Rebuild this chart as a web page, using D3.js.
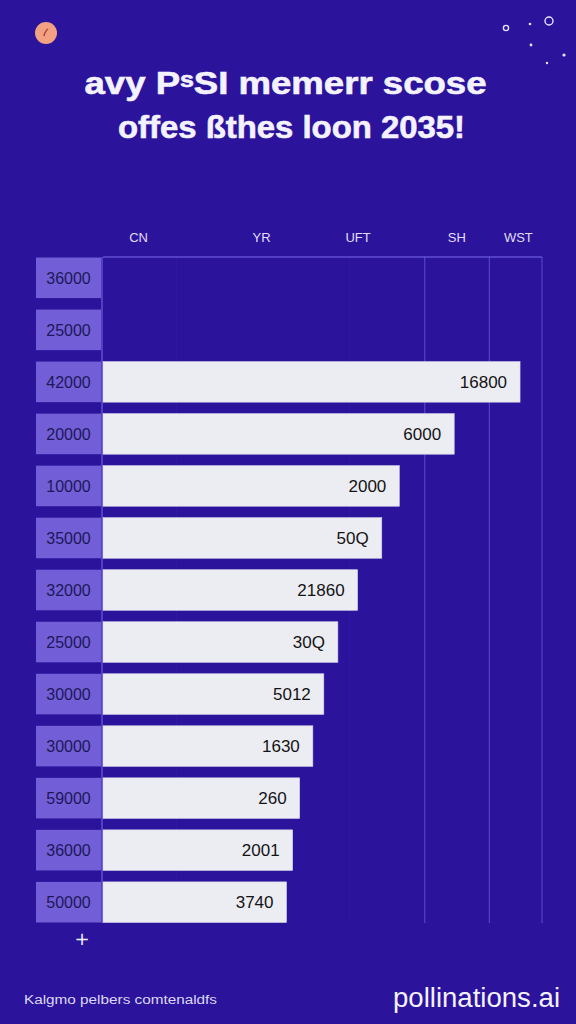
<!DOCTYPE html>
<html>
<head>
<meta charset="utf-8">
<script src="https://cdn.jsdelivr.net/npm/d3@7"></script>
<style>
  html, body { margin: 0; padding: 0; background: #2b139c; }
  svg { display: block; }
</style>
</head>
<body>
<svg id="chart" width="576" height="1024"></svg>
<script>
// ---- data ----
const titleLines = ["avy P\u02e2SI memerr scose", "offes \u00dfthes loon 2035!"];
const headers = ["CN", "YR", "UFT", "SH", "WST"];
const headerValues = [8, 36, 58, 80.5, 94.5];
const rowLabels = ["36000", "25000", "42000", "20000", "10000", "35000", "32000", "25000", "30000", "30000", "59000", "36000", "50000"];
const barValues = [null, null, 95, 80, 67.5, 63.5, 58, 53.5, 50.3, 47.8, 44.8, 43.2, 41.8];
const barLabels = [null, null, "16800", "6000", "2000", "50Q", "21860", "30Q", "5012", "1630", "260", "2001", "3740"];
const gridValues = [16.7, 56.2, 73.3, 88, 100];
const footnote = "Kalgmo pelbers comtenaldfs";
const brand = "pollinations.ai";

// ---- drawing ----
(function () {
const svg = d3.select("#chart");
const W = 576, H = 1024;
const pLeft = 103, pRight = 542, pTop = 257, pBottom = 923;
const font = "Liberation Sans, Arial, sans-serif";

svg.append("rect").attr("width", W).attr("height", H).attr("fill", "#2b139c");

// decorations
svg.append("circle").attr("cx", 46).attr("cy", 33).attr("r", 11).attr("fill", "#f2a283");
svg.append("path").attr("d", "M44,36 q1,-5 4,-7").attr("stroke", "#b0403a").attr("stroke-width", 1.5).attr("fill", "none");
const deco = [
  {x: 506, y: 28, r: 2.6, o: true}, {x: 530, y: 24, r: 1.3, o: false}, {x: 549, y: 21, r: 4, o: true},
  {x: 531, y: 45, r: 1.4, o: false}, {x: 564, y: 55, r: 1.6, o: false}, {x: 547, y: 63, r: 1.2, o: false}
];
svg.selectAll("circle.deco").data(deco).join("circle").attr("class", "deco")
  .attr("cx", d => d.x).attr("cy", d => d.y).attr("r", d => d.r)
  .attr("fill", d => d.o ? "none" : "#e8e4ff")
  .attr("stroke", d => d.o ? "#e8e4ff" : "none").attr("stroke-width", 1.4);

// title
const titleBox = [{cx: 285.5, y: 94, w: 402}, {cx: 291.5, y: 138, w: 347}];
svg.selectAll("text.title").data(titleLines).join("text").attr("class", "title")
  .attr("x", (d, i) => titleBox[i].cx).attr("y", (d, i) => titleBox[i].y)
  .attr("text-anchor", "middle")
  .attr("textLength", (d, i) => titleBox[i].w).attr("lengthAdjust", "spacingAndGlyphs")
  .attr("font-family", font).attr("font-weight", "bold")
  .attr("font-size", 31).attr("fill", "#f4f2ff")
  .attr("stroke", "#f4f2ff").attr("stroke-width", 0.6).text(d => d);

// scales
const x = d3.scaleLinear().domain([0, 100]).range([pLeft, pRight]);
const y = d3.scaleBand().domain(d3.range(rowLabels.length)).range([pTop, pBottom]).paddingInner(0.22).paddingOuter(0.01);

// gridlines
svg.selectAll("line.grid").data(gridValues).join("line").attr("class", "grid")
  .attr("x1", d => x(d)).attr("x2", d => x(d)).attr("y1", pTop).attr("y2", pBottom)
  .attr("stroke", (d, i) => i < 2 ? "#3219a6" : "#5f49d6").attr("stroke-width", 1);
svg.append("line").attr("x1", pLeft).attr("x2", pRight).attr("y1", pTop).attr("y2", pTop)
  .attr("stroke", "#7d6cec").attr("stroke-width", 1.2);
svg.append("line").attr("x1", pLeft - 1).attr("x2", pLeft - 1).attr("y1", pTop).attr("y2", pBottom)
  .attr("stroke", "#6f5de2").attr("stroke-width", 1.2);

// headers (top axis)
const topAxis = d3.axisTop(x).tickValues(headerValues).tickFormat((d, i) => headers[i]).tickSize(0).tickPadding(0);
const ta = svg.append("g").attr("transform", "translate(0,242)").call(topAxis);
ta.select(".domain").remove();
ta.selectAll("text").attr("font-family", font).attr("font-size", 13).attr("fill", "#e2def8");

// row label boxes
const rows = svg.selectAll("g.row").data(rowLabels).join("g").attr("class", "row");
rows.append("rect").attr("x", 36).attr("width", 65)
  .attr("y", (d, i) => y(i)).attr("height", y.bandwidth()).attr("fill", "#725ed6");
rows.append("text").attr("x", 68.5).attr("y", (d, i) => y(i) + y.bandwidth() / 2 + 6)
  .attr("text-anchor", "middle").attr("font-family", font)
  .attr("font-size", 16).attr("fill", "#20175a").text(d => d);

// bars
const barData = barValues.map((v, i) => ({v, i, label: barLabels[i]})).filter(d => d.v != null);
svg.selectAll("rect.bar").data(barData).join("rect").attr("class", "bar")
  .attr("x", x(0)).attr("y", d => y(d.i)).attr("width", d => x(d.v) - x(0)).attr("height", y.bandwidth())
  .attr("fill", "#ececf3").attr("stroke", "#d6d4ea").attr("stroke-width", 0.6);
svg.selectAll("text.val").data(barData).join("text").attr("class", "val")
  .attr("x", d => x(d.v) - 13).attr("y", d => y(d.i) + y.bandwidth() / 2 + 6)
  .attr("text-anchor", "end").attr("font-family", font)
  .attr("font-size", 17).attr("fill", "#141414").text(d => d.label);

// plus sign
svg.append("text").attr("x", 82).attr("y", 945).attr("text-anchor", "middle")
  .attr("font-family", "DejaVu Sans, sans-serif").attr("font-size", 18).attr("fill", "#f0eeff").text("+");

// footer
svg.append("text").attr("x", 24).attr("y", 1004).attr("textLength", 193).attr("lengthAdjust", "spacingAndGlyphs")
  .attr("font-family", font).attr("font-size", 12).attr("fill", "#dcd8f4").text(footnote);
svg.append("text").attr("x", 560).attr("y", 1007).attr("text-anchor", "end")
  .attr("textLength", 167).attr("lengthAdjust", "spacingAndGlyphs")
  .attr("font-family", font).attr("font-size", 27).attr("fill", "#f4f2ff").text(brand);
})();
</script>
</body>
</html>
